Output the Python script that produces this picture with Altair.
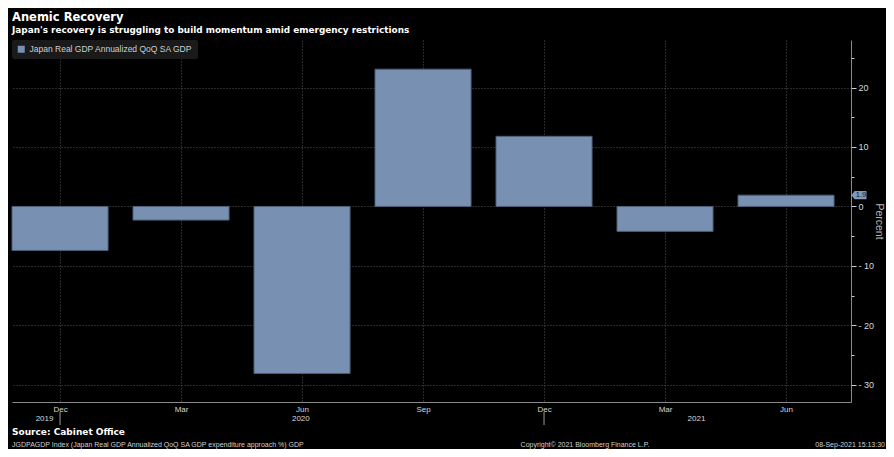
import altair as alt
import pandas as pd

# ---------------- data ----------------
months = ["Dec", "Mar", "Jun", "Sep", "Dec", "Mar", "Jun"]
years = [2019, 2020, 2020, 2020, 2020, 2021, 2021]
gdp = [-7.4, -2.3, -28.1, 23.1, 11.8, -4.2, 1.9]
series_name = "Japan Real GDP Annualized QoQ SA GDP"
year_labels = ["2019", "2020", "2021"]
year_label_pos = [-0.128, 1.99, 5.26]    # position on the quarter index axis
year_separators = [0, 4]                 # quarters where a year label block changes
y_tick_values = [-30, -25, -20, -15, -10, -5, 0, 5, 10, 15, 20, 25]

title_text = "Anemic Recovery"
subtitle_text = "Japan's recovery is struggling to build momentum amid emergency restrictions"
source_text = "Source: Cabinet Office"
footer_left = "JGDPAGDP Index (Japan Real GDP Annualized QoQ SA GDP expenditure approach %) GDP"
footer_center = "Copyright\u00a9 2021 Bloomberg Finance L.P."
footer_right = "08-Sep-2021 15:13:30"

# ---------------- layout / style ----------------
W, H = 839, 362
HALF = 0.397
FONT = "Liberation Sans"
BOLD_FONT = "DejaVu Sans"
BAR = "#7890b2"
BAR_EDGE = "#4d5d75"
TAG = "#7f9abb"
GRID = "#555555"
AXIS = "#8a8a8a"
LABEL = "#d8d8d8"

df = pd.DataFrame({
    "i": list(range(len(months))),
    "month": months,
    "year": years,
    "value": gdp,
    "series": series_name,
})

xscale = alt.Scale(domain=[-HALF, len(months) - 1 + 0.537], nice=False, zero=False)
yscale = alt.Scale(domain=[-32.9, 28], nice=False, zero=False)

month_js = "[" + ",".join("'%s'" % m for m in months) + "]"

x_axis = alt.Axis(
    values=list(range(len(months))),
    labelExpr=month_js + "[datum.value]",
    grid=True, gridDash=[1, 2], gridColor=GRID, gridWidth=1,
    domain=True, domainColor=AXIS, domainWidth=1,
    ticks=False, labelColor=LABEL, labelFontSize=8, labelFont=FONT,
    labelPadding=3, title=None,
)

y_axis = alt.Axis(
    orient="right",
    values=y_tick_values,
    labelExpr="datum.value % 10 === 0 ? replace(datum.label, '\u2212', '- ') : ''",
    format="d",
    grid=True, gridDash=[1, 2], gridColor=GRID, gridWidth=1,
    gridOpacity={"condition": {"test": "datum.value % 10 !== 0", "value": 0}, "value": 1},
    domain=True, domainColor=AXIS, domainWidth=1,
    ticks=True, tickColor="#cfcfcf",
    tickSize={"condition": {"test": "datum.value % 10 === 0", "value": 5}, "value": 3},
    tickWidth=1,
    labelColor=LABEL, labelFontSize=9, labelFont=FONT, labelPadding=2,
    title="Percent", titleColor="#b8b8b8", titleFontSize=10.5, titleFont=FONT,
    titleFontWeight="normal", titleAngle=90, titleBaseline="middle", titleX=27,
)

base = alt.Chart(df)

bars = base.transform_calculate(
    x0="datum.i - %f" % HALF, x1="datum.i + %f" % HALF
).mark_rect(stroke=BAR_EDGE, strokeWidth=1).encode(
    x=alt.X("x0:Q", scale=xscale, axis=x_axis),
    x2="x1:Q",
    y=alt.Y("value:Q", scale=yscale, axis=y_axis),
    y2=alt.datum(0),
    color=alt.Color(
        "series:N",
        scale=alt.Scale(range=[BAR]),
        legend=alt.Legend(
            orient="top-left", offset=0, title=None, symbolType="square",
            symbolSize=49, symbolStrokeWidth=0, labelColor="#cfcfcf",
            labelFontSize=8.5, labelFont=FONT, labelLimit=400, fillColor="#1a1a1a",
            padding=5, cornerRadius=2, labelOffset=4,
        ),
    ),
)

last = base.transform_filter(alt.datum.i == len(months) - 1)
tag_path = "M -1 0 L -0.6 -0.54 L 1 -0.54 L 1 0.54 L -0.6 0.54 Z"
tag = last.mark_point(shape=tag_path, size=225, filled=True, fill=TAG, opacity=1,
                      strokeWidth=0).encode(
    x=alt.value(W + 8),
    y=alt.Y("value:Q", scale=yscale, axis=y_axis),
)
tag_text = last.mark_text(font=FONT, fontSize=7.5, color="#0d1826", align="center",
                          baseline="middle").encode(
    x=alt.value(W + 10),
    y=alt.Y("value:Q", scale=yscale, axis=y_axis),
    text=alt.Text("value:Q", format=".1f"),
)

ydf = pd.DataFrame({"label": year_labels, "pos": year_label_pos})
year_text = alt.Chart(ydf).mark_text(font=FONT, fontSize=8, color=LABEL,
                                     align="center", baseline="middle").encode(
    x=alt.X("pos:Q", scale=xscale, axis=x_axis),
    y=alt.value(H + 17),
    text="label:N",
)

sdf = pd.DataFrame({"pos": year_separators})
seps = alt.Chart(sdf).mark_rule(color="#9a9a9a", strokeWidth=1).encode(
    x=alt.X("pos:Q", scale=xscale, axis=x_axis),
    y=alt.value(H + 10),
    y2=alt.value(H + 23),
)


def label(text, x, y, size, weight="normal", align="left", color="#ffffff", font=FONT):
    return alt.Chart(pd.DataFrame({"t": [text]})).mark_text(
        font=font, fontSize=size, fontWeight=weight, align=align,
        baseline="alphabetic", color=color,
    ).encode(x=alt.value(x), y=alt.value(y), text="t:N")


texts = [
    label(title_text, 0, -19, 11.5, "bold", font=BOLD_FONT),
    label(subtitle_text, 0, -7, 8.9, "bold", font=BOLD_FONT),
    label(source_text, 0, H + 33, 9, "bold", font=BOLD_FONT),
    label(footer_left, 0, H + 45, 7, color="#d0d0d0"),
    label(footer_center, 573, H + 45, 7, align="center", color="#d0d0d0"),
    label(footer_right, 873, H + 45, 7, align="right", color="#d0d0d0"),
]

chart = alt.layer(bars, tag, tag_text, year_text, seps, *texts).properties(
    width=W, height=H, background="#000000",
    padding={"left": 4, "top": 32, "right": 35, "bottom": 47},
    autosize=alt.AutoSizeParams(type="none"),
).configure_view(stroke=None)

chart.save("out.html", embed_options={"renderer": "svg", "actions": False})
